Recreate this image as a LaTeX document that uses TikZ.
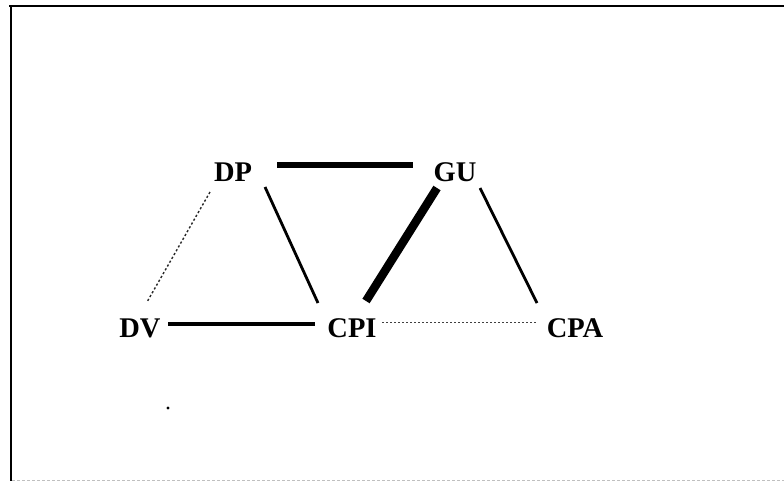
\documentclass[tikz,border=0pt]{standalone}
\usepackage{fontspec}
\setmainfont{Liberation Serif}
\begin{document}
\begin{tikzpicture}[x=1pt,y=-1pt,
  lbl/.style={font=\fontsize{28.5}{30}\selectfont\bfseries, inner sep=0pt, anchor=center},
  link/.style={line width=2.8pt, line cap=butt},
  thick link/.style={line width=6.5pt, line cap=butt},
  heavy link/.style={line width=8.5pt, line cap=butt},
  weak link/.style={line width=1.4pt, dash pattern=on 2.2pt off 2.2pt, black!85},
  faint link/.style={line width=1pt, dash pattern=on 2pt off 2pt, black!75}]
\useasboundingbox (0,0) rectangle (784,483);
% frame
\draw[line width=2.5pt] (9,6) -- (784,6);
\draw[line width=2.5pt] (11,5) -- (11,481);
\draw[line width=1pt, black!25, dash pattern=on 3pt off 2pt] (12,480) -- (784,480);
% nodes
\node[lbl] (DP) at (233,172) {DP};
\node[lbl] (GU) at (455,172) {GU};
\node[lbl] (DV) at (140,328) {DV};
\node[lbl] (CPI) at (352,328) {CPI};
\node[lbl] (CPA) at (575,328) {CPA};
% connectors
\draw[thick link] ([shift={(44,-7)}]DP.center) -- ([shift={(-42,-7)}]GU.center);
\draw[link] ([shift={(32,15)}]DP.center) -- ([shift={(-34,-25)}]CPI.center);
\draw[heavy link] ([shift={(-18,16)}]GU.center) -- ([shift={(14,-27)}]CPI.center);
\draw[link] ([shift={(25,16)}]GU.center) -- ([shift={(-38,-25)}]CPA.center);
\draw[weak link] ([shift={(-23,20)}]DP.center) -- ([shift={(7,-26)}]DV.center);
\draw[line width=3.2pt] ([shift={(28,-4)}]DV.center) -- ([shift={(-37,-4)}]CPI.center);
\draw[faint link] ([shift={(30,-6)}]CPI.center) -- ([shift={(-38,-6)}]CPA.center);
% stray dot
\fill (168,408) circle (1.7);
\end{tikzpicture}
\end{document}
